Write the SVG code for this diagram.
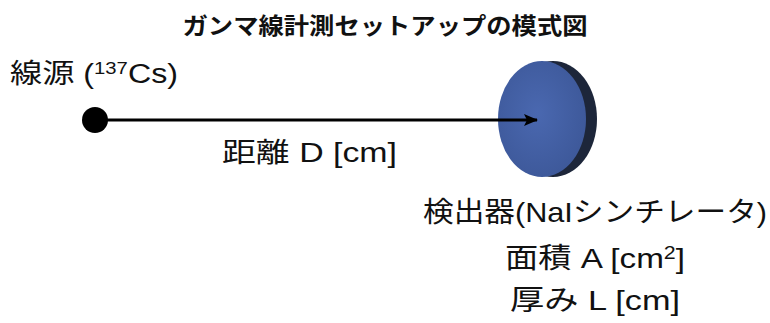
<svg xmlns="http://www.w3.org/2000/svg" width="770" height="323" viewBox="0 0 770 323">
<style>
.t{font-family:"Liberation Sans","Noto Sans CJK JP",sans-serif;fill:#111;}
.title{font-family:"Noto Sans CJK JP","Liberation Sans",sans-serif;font-weight:bold;font-size:23px;fill:#111;}
</style>
<defs>
<marker id="ah" markerWidth="14" markerHeight="12" refX="13" refY="6" orient="auto" markerUnits="userSpaceOnUse">
<path d="M0,0 L14,6 L0,12 L3,6 z" fill="#000"/>
</marker>
<radialGradient id="face" cx="0.45" cy="0.45" r="0.6">
<stop offset="0" stop-color="#4a68b0"/>
<stop offset="1" stop-color="#3d5899"/>
</radialGradient>
</defs>
<rect width="770" height="323" fill="#fff"/>
<text class="title" x="385" y="34" text-anchor="middle" textLength="405" lengthAdjust="spacingAndGlyphs">ガンマ線計測セットアップの模式図</text>
<g id="source">
<circle cx="95" cy="120" r="13" fill="#000"/>
<text class="t" x="10" y="83" font-size="27" textLength="168" lengthAdjust="spacingAndGlyphs">線源 (<tspan font-size="17" dy="-9">137</tspan><tspan dy="9">Cs)</tspan></text>
</g>
<g id="detector">
<ellipse cx="553" cy="119" rx="44" ry="58" fill="#1d263a"/>
<ellipse cx="542" cy="119" rx="44" ry="58" fill="url(#face)"/>
<text class="t" x="595" y="222" font-size="28" text-anchor="middle" textLength="344" lengthAdjust="spacingAndGlyphs">検出器(NaIシンチレータ)</text>
<text class="t" x="595" y="268" font-size="28" text-anchor="middle" textLength="180" lengthAdjust="spacingAndGlyphs">面積 A [cm<tspan font-size="18" dy="-9">2</tspan><tspan dy="9">]</tspan></text>
<text class="t" x="595" y="310" font-size="28" text-anchor="middle" textLength="170" lengthAdjust="spacingAndGlyphs">厚み L [cm]</text>
</g>
<g id="connectors">
<line x1="95" y1="120" x2="537" y2="120" stroke="#000" stroke-width="3" marker-end="url(#ah)"/>
<text class="t" x="222" y="162" font-size="27" textLength="175" lengthAdjust="spacingAndGlyphs">距離 D [cm]</text>
</g>
</svg>
